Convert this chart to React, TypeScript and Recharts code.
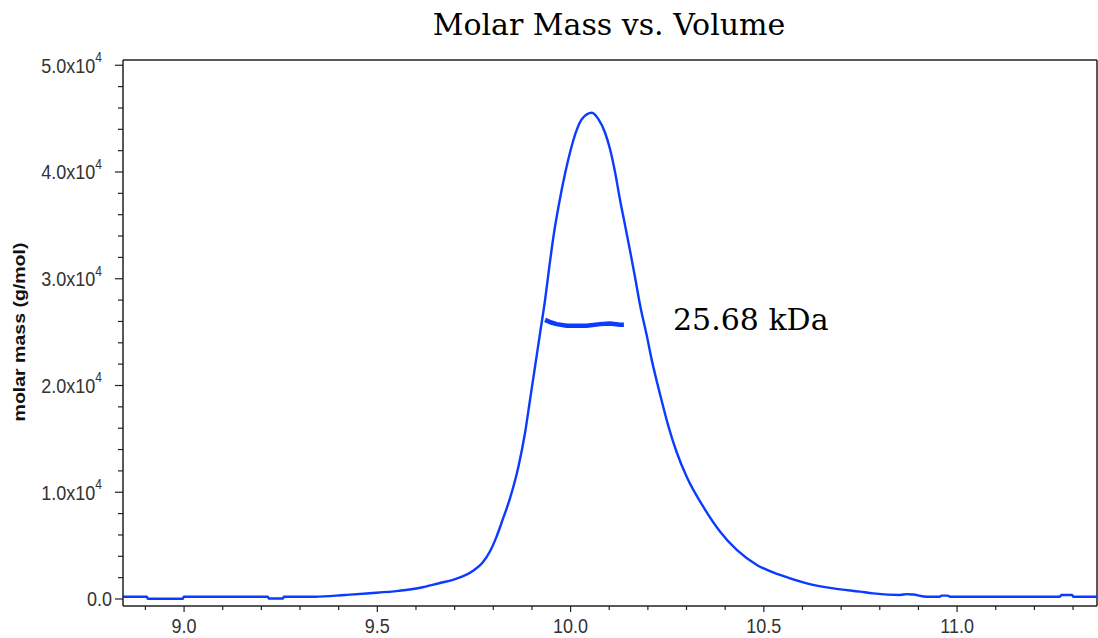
import React from 'react';
import { LineChart, Line, XAxis, YAxis, ReferenceDot, ReferenceLine } from 'recharts';

// elution volume (mL) and the detector trace plotted on the molar mass scale
const traceVolume = [
  8.842, 8.904, 8.906, 8.997, 8.999, 9.217, 9.219, 9.256, 9.258, 9.339,
  9.417, 9.481, 9.554, 9.611, 9.662, 9.696, 9.748, 9.772, 9.792, 9.808,
  9.825, 9.843, 9.865, 9.882, 9.895, 9.908, 9.921, 9.934, 9.945, 9.957,
  9.97, 9.986, 9.999, 10.016, 10.029, 10.055, 10.072, 10.089, 10.102, 10.115,
  10.128, 10.141, 10.154, 10.167, 10.18, 10.197, 10.21, 10.232, 10.253, 10.275,
  10.301, 10.344, 10.387, 10.43, 10.482, 10.542, 10.611, 10.68, 10.749, 10.783,
  10.853, 10.87, 10.886, 10.922, 10.955, 10.96, 10.975, 10.982, 11.266, 11.27,
  11.298, 11.3, 11.362,
];
const traceSignal = [
  210, 210, 30, 30, 210, 210, 40, 40, 210, 210,
  380, 540, 760, 1050, 1500, 1800, 2650, 3400, 4500, 5800,
  7500, 9400, 12390, 15520, 18640, 21760, 24890, 28010, 31130, 34260,
  37000, 39900, 41900, 43950, 44950, 45550, 44950, 43700, 42150, 40000,
  37380, 35000, 32600, 30100, 27500, 24700, 22400, 19100, 16200, 13700,
  11400, 8600, 6300, 4590, 3190, 2250, 1470, 1000, 690, 530,
  380, 460, 420, 215, 215, 320, 320, 215, 215, 370,
  370, 215, 215,
];

// molar mass across the peak (g/mol)
const massVolume = [9.934, 9.95, 9.964, 9.99, 10.042, 10.076, 10.102, 10.128, 10.138];
const molarMass = [26150, 25900, 25750, 25600, 25600, 25750, 25800, 25700, 25700];
const averageMassKDa = 25.68;

const xTicks = [
  8.9, 9.0, 9.1, 9.2, 9.3, 9.4, 9.5, 9.6, 9.7, 9.8, 9.9, 10.0, 10.1, 10.2,
  10.3, 10.4, 10.5, 10.6, 10.7, 10.8, 10.9, 11.0, 11.1, 11.2, 11.3,
];
const xLabels = ['9.0', '9.5', '10.0', '10.5', '11.0'];
const yTicks = [
  0, 2000, 4000, 6000, 8000, 10000, 12000, 14000, 16000, 18000, 20000,
  22000, 24000, 26000, 28000, 30000, 32000, 34000, 36000, 38000, 40000,
  42000, 44000, 46000, 48000, 50000,
];
const yLabels: Record<number, string> = {
  0: '0.0',
  10000: '1.0x10',
  20000: '2.0x10',
  30000: '3.0x10',
  40000: '4.0x10',
  50000: '5.0x10',
};

const X_DOMAIN: [number, number] = [8.842, 11.362];
const Y_DOMAIN: [number, number] = [-656, 50492];

const traceData = traceVolume.map((v, i) => ({ v, y: traceSignal[i] }));
const massData = massVolume.map((v, i) => ({ v, y: molarMass[i] }));

const BLUE = '#0b3bff';
const INK = '#222';
const STRETCH = 1.17;
const tickFont = '"Liberation Sans", Arial, sans-serif';

const XTick = (props: any) => {
  const { x, y, payload } = props;
  const val = Number(payload.value).toFixed(1);
  const major = xLabels.includes(val);
  return (
    <g>
      <line x1={x} x2={x} y1={y} y2={y + (major ? 6 : 4)} stroke={INK} strokeWidth={1.2} />
      {major && (
        <text
          transform={`translate(${x},${y}) scale(1,${STRETCH})`}
          y={23}
          textAnchor="middle"
          fontFamily={tickFont}
          fontSize={18}
          fill="#333"
        >
          {val}
        </text>
      )}
    </g>
  );
};

const YTick = (props: any) => {
  const { x, y, payload } = props;
  const label = yLabels[payload.value];
  const major = label !== undefined;
  return (
    <g>
      <line x1={x - (major ? 8 : 5)} x2={x} y1={y} y2={y} stroke={INK} strokeWidth={1.2} />
      {major && (
        <text
          transform={`translate(${payload.value === 0 ? x - 11 : x - 21},${y}) scale(1,${STRETCH})`}
          y={6.4}
          textAnchor="end"
          fontFamily={tickFont}
          fontSize={18}
          fill="#333"
        >
          <tspan>{label}</tspan>
          {payload.value !== 0 && (
            <tspan fontSize={12} dy={-9}>
              4
            </tspan>
          )}
        </text>
      )}
    </g>
  );
};

const MassLabel = (props: any) => {
  const { viewBox } = props;
  return (
    <text
      x={viewBox.x}
      y={viewBox.y + 5}
      fontFamily='"DejaVu Serif", serif'
      fontSize={30}
      fill="#000"
    >
      {`${averageMassKDa.toFixed(2)} kDa`}
    </text>
  );
};

export default function App() {
  return (
    <div style={{ position: 'absolute', left: 0, top: 0, width: 1098, height: 638, background: '#fff' }}>
      <svg width={1098} height={50} style={{ position: 'absolute', left: 0, top: 0 }}>
        <text x={609} y={35} textAnchor="middle" fontFamily='"DejaVu Serif", serif' fontSize={30} fill="#000">
          Molar Mass vs. Volume
        </text>
      </svg>
      <LineChart width={1098} height={638} margin={{ top: 60, right: 1, bottom: 0, left: 0 }}>
        <XAxis
          dataKey="v"
          type="number"
          domain={X_DOMAIN}
          allowDataOverflow
          ticks={xTicks}
          interval={0}
          tickSize={0}
          tickMargin={0}
          tickLine={false}
          tick={<XTick />}
          height={32}
          axisLine={{ stroke: INK, strokeWidth: 1.5 }}
        />
        <YAxis
          type="number"
          domain={Y_DOMAIN}
          allowDataOverflow
          ticks={yTicks}
          interval={0}
          tickSize={0}
          tickMargin={0}
          tickLine={false}
          tick={<YTick />}
          width={123}
          axisLine={{ stroke: INK, strokeWidth: 1.5 }}
          label={() => (
            <text
              transform={`translate(20,332) scale(1,1.22) rotate(-90)`}
              textAnchor="middle"
              dominantBaseline="central"
              fontFamily={tickFont}
              fontWeight="bold"
              fontSize={16}
              fill="#111"
            >
              molar mass (g/mol)
            </text>
          )}
        />
        {/* top and right edges of the plot frame */}
        <ReferenceLine y={Y_DOMAIN[1]} stroke={INK} strokeWidth={1.5} ifOverflow="visible" />
        <ReferenceLine x={X_DOMAIN[1]} stroke={INK} strokeWidth={1.5} ifOverflow="visible" />
        <Line
          data={traceData}
          dataKey="y"
          type="monotone"
          stroke={BLUE}
          strokeWidth={2.4}
          dot={false}
          isAnimationActive={false}
        />
        <Line
          data={massData}
          dataKey="y"
          type="linear"
          stroke={BLUE}
          strokeWidth={4.5}
          dot={false}
          isAnimationActive={false}
        />
        <ReferenceDot
          x={10.265}
          y={averageMassKDa * 1000}
          r={0}
          fill="none"
          stroke="none"
          label={<MassLabel />}
        />
      </LineChart>
    </div>
  );
}
